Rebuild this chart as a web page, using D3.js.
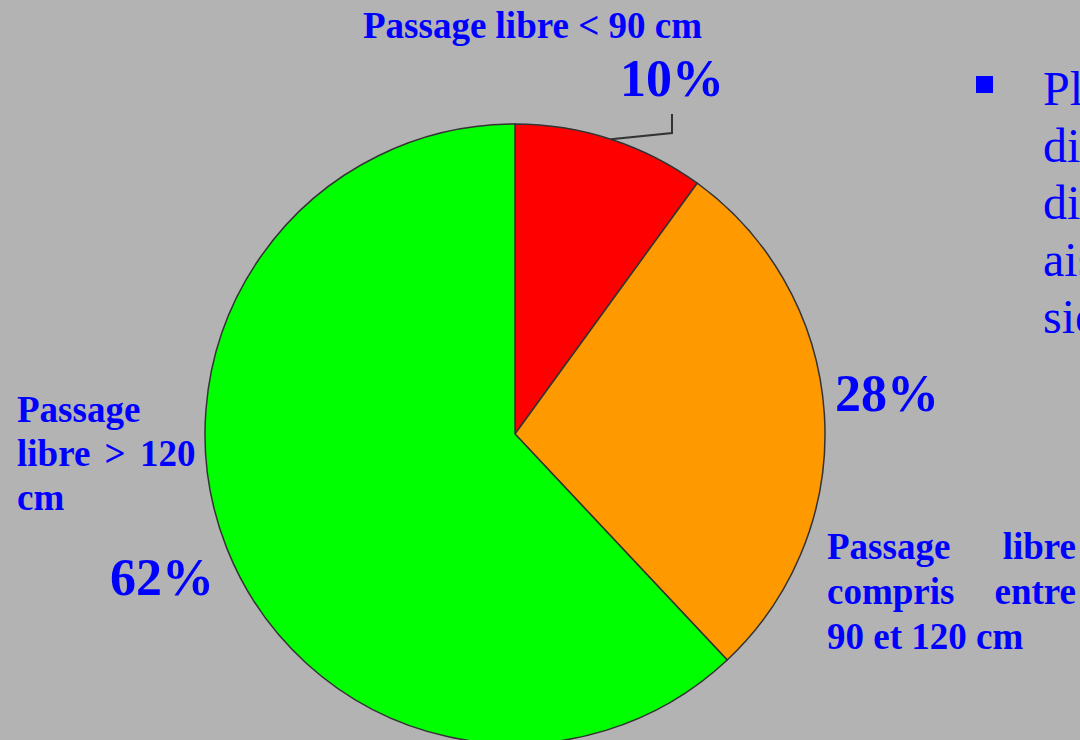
<!DOCTYPE html>
<html>
<head>
<meta charset="utf-8">
<script src="https://cdn.jsdelivr.net/npm/d3@7"></script>
<style>
  html, body { margin: 0; padding: 0; background: #b3b3b3; overflow: hidden; }
  svg { display: block; }
</style>
</head>
<body>
<div id="chart"></div>
<script>
// data
var categories = ["Passage libre < 90 cm", "Passage libre compris entre 90 et 120 cm", "Passage libre > 120 cm"];
var values = [10, 28, 62];
var colors = ["#ff0000", "#ff9900", "#00ff00"];
var bulletLines = ["Plus de la moitié", "disposent d'un", "diamètre de", "aisé autour du", "siège"];

var width = 1080, height = 740,
  cx = 515, cy = 434, radius = 310,
  blue = "#0000ff";

var svg = d3.select("#chart").append("svg")
  .attr("width", width)
  .attr("height", height)
  .style("font-family", "'Liberation Serif', 'Times New Roman', serif");

svg.append("rect")
  .attr("width", width)
  .attr("height", height)
  .attr("fill", "#b3b3b3");

var pie = d3.pie().sort(null).value(d => d);
var arcs = pie(values);
var arc = d3.arc().innerRadius(0).outerRadius(radius);

var g = svg.append("g")
  .attr("transform", "translate(" + cx + "," + cy + ")");

g.selectAll("path")
  .data(arcs)
  .join("path")
  .attr("d", arc)
  .attr("fill", (d, i) => colors[i])
  .attr("stroke", "#333")
  .attr("stroke-width", 1.5);

// leader line for the small slice
var a0 = (arcs[0].startAngle + arcs[0].endAngle) / 2;
var p0 = [Math.sin(a0) * radius, -Math.cos(a0) * radius];
g.append("polyline")
  .attr("points", [p0, [157, -301], [157, -320]].map(p => p.join(",")).join(" "))
  .attr("fill", "none")
  .attr("stroke", "#333")
  .attr("stroke-width", 2);

// percentages
var pct = [
  {x: 672, y: 96, anchor: "middle"},
  {x: 835, y: 411, anchor: "start"},
  {x: 214, y: 595, anchor: "end"}
];
svg.selectAll("text.pct")
  .data(arcs)
  .join("text")
  .attr("class", "pct")
  .attr("x", (d, i) => pct[i].x)
  .attr("y", (d, i) => pct[i].y)
  .attr("text-anchor", (d, i) => pct[i].anchor)
  .attr("fill", blue)
  .style("font-weight", "bold")
  .style("font-size", "52px")
  .text(d => d.data + "%");

// category labels
function label(lines, x, y, lh) {
  var t = svg.append("g")
    .attr("fill", blue)
    .style("font-weight", "bold")
    .style("font-size", "37px");
  lines.forEach(function (line, i) {
    line.forEach(function (w) {
      t.append("text")
        .attr("x", w.x != null ? w.x : x)
        .attr("y", y + i * lh)
        .attr("text-anchor", w.anchor || "start")
        .style("word-spacing", w.ws || null)
        .text(w.t);
    });
  });
}

label([[{t: categories[0]}]], 363, 38, 0);

label([
  [{t: "Passage"}],
  [{t: "libre > 120", ws: "5px"}],
  [{t: "cm"}]
], 17, 422, 44);

label([
  [{t: "Passage"}, {t: "libre", x: 1076, anchor: "end"}],
  [{t: "compris"}, {t: "entre", x: 1076, anchor: "end"}],
  [{t: "90 et 120 cm"}]
], 827, 559, 45);

// bullet text on the right (cut by the window edge, as in the original slide)
svg.append("rect")
  .attr("x", 976)
  .attr("y", 76)
  .attr("width", 17)
  .attr("height", 17)
  .attr("fill", blue);

svg.append("g")
  .attr("fill", blue)
  .style("font-size", "48px")
  .selectAll("text")
  .data(bulletLines)
  .join("text")
  .attr("x", 1043)
  .attr("y", (d, i) => 105 + i * 57)
  .text(d => d);
</script>
</body>
</html>
